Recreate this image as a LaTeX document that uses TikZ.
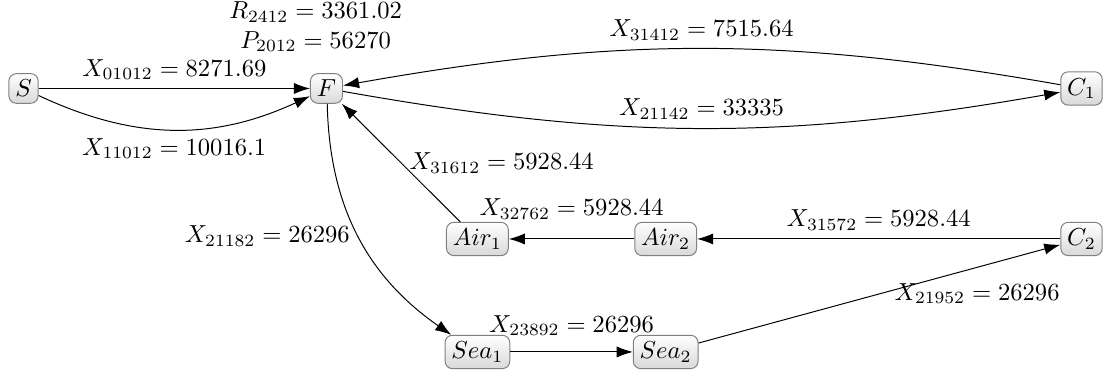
\documentclass[tikz,border=0pt]{standalone}
\usetikzlibrary{positioning, arrows.meta, calc}

\begin{document}
\begin{tikzpicture}[scale=1.0,
    hub/.style={draw=gray, rounded corners=3pt, top color=white, bottom color=gray!30, inner sep=2.6pt},
    flow/.style={-{Latex[length=2.3mm, width=1.6mm]}}]
    \useasboundingbox (0,0) rectangle (15.757,5.314);

    % nodes
    \node[hub] (S) at (0.336,4.05) {$S$};
    \node[hub] (F) at (4.664,4.05) {$F$};
    \node[hub] (C1) at (15.45,4.05) {$C_1$};
    \node[hub] (C2) at (15.45,1.9) {$C_2$};
    \node[hub] (Air1) at (6.82,1.9) {$Air_1$};
    \node[hub] (Air2) at (9.51,1.9) {$Air_2$};
    \node[hub] (Sea1) at (6.82,0.286) {$Sea_1$};
    \node[hub] (Sea2) at (9.51,0.286) {$Sea_2$};
    \node[align=center] (RP) at (4.51,4.93) {$R_{2412}=3361.02$\\[0pt]$P_{2012}=56270$};

    % supplier to factory
    \draw[flow] (S) -- node[above] {$X_{01012}=8271.69$} (F);
    \draw[flow] (S) to[bend right=25] node[below] {$X_{11012}=10016.1$} (F);

    % factory and customer 1
    \draw[flow] (F) to[bend right=10] node[above] {$X_{21142}=33335$} (C1);
    \draw[flow] (C1) to[bend right=10] node[above] {$X_{31412}=7515.64$} (F);

    % air route
    \draw[flow] (C2) -- node[above] {$X_{31572}=5928.44$} (Air2);
    \draw[flow] (Air2) -- node[above=4.5pt] {$X_{32762}=5928.44$} (Air1);
    \draw[flow] (Air1) -- node[right] {$X_{31612}=5928.44$} (F);

    % sea route
    \draw[flow] (F) to[bend right=27] node[left] {$X_{21182}=26296$} (Sea1);
    \draw[flow] (Sea1) -- node[above=3pt] {$X_{23892}=26296$} (Sea2);
    \draw[flow] (Sea2) -- node[pos=0.77, below=3pt] {$X_{21952}=26296$} (C2);
\end{tikzpicture}
\end{document}
